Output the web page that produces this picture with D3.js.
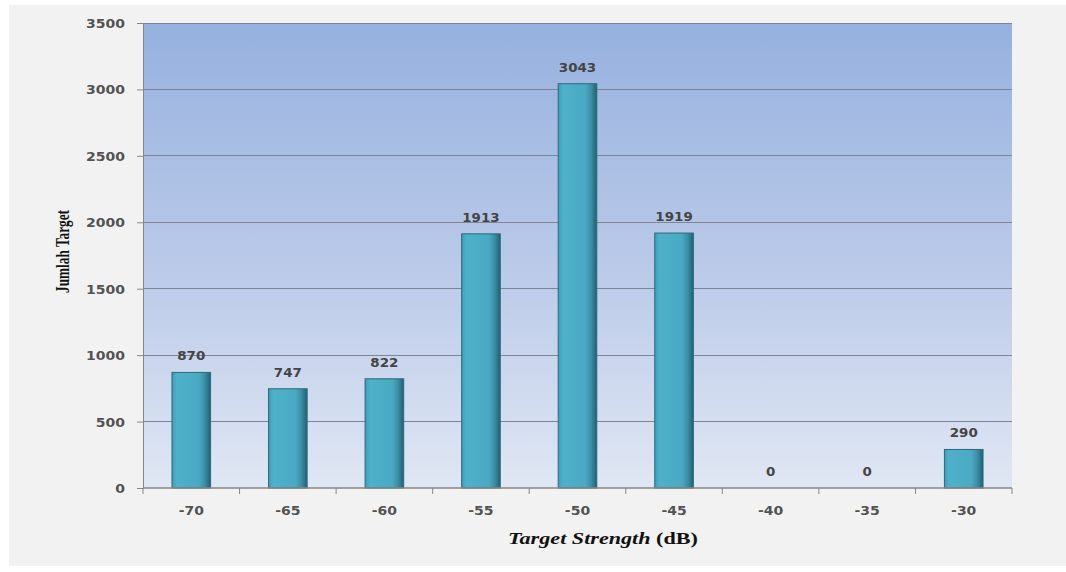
<!DOCTYPE html>
<html>
<head>
<meta charset="utf-8">
<script src="https://cdn.jsdelivr.net/npm/d3@7"></script>
<style>
  html, body { margin: 0; padding: 0; background: #ffffff; }
  svg { display: block; }
</style>
</head>
<body>
<svg id="chart" width="1066" height="572"></svg>
<script>
// ---- data ----
const categories = ["-70", "-65", "-60", "-55", "-50", "-45", "-40", "-35", "-30"];
const values = [870, 747, 822, 1913, 3043, 1919, 0, 0, 290];
const yTicks = [0, 500, 1000, 1500, 2000, 2500, 3000, 3500];
const yTitle = "Jumlah Target";
const xTitleItalic = "Target Strength";
const xTitleRest = " (dB)";

// ---- layout ----
const W = 1066, H = 572;
const plot = { left: 143, top: 23, right: 1012, bottom: 488 };
const SX = 1.12; // horizontal stretch of the source picture's text
const labelFont = "DejaVu Sans, Verdana, sans-serif";

const svg = d3.select("#chart");
const defs = svg.append("defs");

const bgGrad = defs.append("linearGradient").attr("id", "bgGrad")
  .attr("x1", 0).attr("y1", 0).attr("x2", 0).attr("y2", 1);
bgGrad.append("stop").attr("offset", "0%").attr("stop-color", "#96b1df");
bgGrad.append("stop").attr("offset", "55%").attr("stop-color", "#bccbe9");
bgGrad.append("stop").attr("offset", "100%").attr("stop-color", "#e0e7f4");

const barGrad = defs.append("linearGradient").attr("id", "barGrad")
  .attr("x1", 0).attr("y1", 0).attr("x2", 1).attr("y2", 0);
barGrad.append("stop").attr("offset", "0%").attr("stop-color", "#3f9db5");
barGrad.append("stop").attr("offset", "12%").attr("stop-color", "#4eb0c9");
barGrad.append("stop").attr("offset", "70%").attr("stop-color", "#4aaac3");
barGrad.append("stop").attr("offset", "86%").attr("stop-color", "#3a8ca3");
barGrad.append("stop").attr("offset", "100%").attr("stop-color", "#215f72");

// outer panel
svg.append("rect").attr("x", 9).attr("y", 5).attr("width", W - 9).attr("height", 561)
  .attr("fill", "#f2f2f2");

// plot background
svg.append("rect")
  .attr("x", plot.left).attr("y", plot.top)
  .attr("width", plot.right - plot.left).attr("height", plot.bottom - plot.top)
  .attr("fill", "url(#bgGrad)");

// scales
const x = d3.scaleBand().domain(categories)
  .range([plot.left, plot.right]).paddingInner(0.6).paddingOuter(0.3);
const xCell = d3.scaleBand().domain(categories).range([plot.left, plot.right]).padding(0);
const y = d3.scaleLinear().domain([0, 3500]).range([plot.bottom, plot.top]);

// gridlines
svg.append("g").selectAll("line").data(yTicks.filter(d => d > 0)).join("line")
  .attr("x1", plot.left).attr("x2", plot.right)
  .attr("y1", d => y(d)).attr("y2", d => y(d))
  .attr("stroke", "#7d8595").attr("stroke-width", 1).attr("shape-rendering", "crispEdges");

// y axis
const yAxis = svg.append("g").attr("transform", `translate(${plot.left},0)`)
  .call(d3.axisLeft(y).tickValues(yTicks).tickSize(6).tickPadding(0).tickFormat(d3.format("d")));
yAxis.select(".domain").attr("stroke", "#868686");
yAxis.selectAll(".tick line").attr("stroke", "#868686");
yAxis.selectAll(".tick text")
  .attr("x", null).attr("dy", null)
  .attr("transform", `translate(-18,4.5) scale(${SX},1)`)
  .attr("text-anchor", "end")
  .attr("font-family", labelFont)
  .attr("font-size", 12.5).attr("font-weight", "bold").attr("fill", "#525252");

// bars
svg.append("g").selectAll("rect").data(categories).join("rect")
  .attr("x", d => x(d)).attr("width", x.bandwidth())
  .attr("y", (d, i) => y(values[i]))
  .attr("height", (d, i) => y(0) - y(values[i]))
  .attr("fill", "url(#barGrad)")
  .attr("stroke", "#2a6a7c").attr("stroke-width", 1);

// x axis line + boundary ticks
svg.append("line").attr("x1", plot.left).attr("x2", plot.right)
  .attr("y1", y(0)).attr("y2", y(0)).attr("stroke", "#868686").attr("stroke-width", 1.5);
const bounds = categories.map(c => xCell(c)).concat([plot.right]);
svg.append("g").selectAll("line").data(bounds).join("line")
  .attr("x1", d => d).attr("x2", d => d)
  .attr("y1", y(0)).attr("y2", y(0) + 6)
  .attr("stroke", "#868686").attr("stroke-width", 1);

// x tick labels
svg.append("g").selectAll("text").data(categories).join("text")
  .attr("transform", d => `translate(${x(d) + x.bandwidth() / 2},${y(0) + 27}) scale(${SX},1)`)
  .attr("text-anchor", "middle")
  .attr("font-family", labelFont)
  .attr("font-size", 12.5).attr("font-weight", "bold").attr("fill", "#525252")
  .text(d => d);

// value labels
svg.append("g").selectAll("text").data(categories).join("text")
  .attr("transform", (d, i) => `translate(${x(d) + x.bandwidth() / 2},${y(values[i]) - 12}) scale(${SX},1)`)
  .attr("text-anchor", "middle")
  .attr("font-family", labelFont)
  .attr("font-size", 12).attr("font-weight", "bold").attr("fill", "#444")
  .text((d, i) => values[i]);

// y title (fit to its length in the source: ~83px, centred at y≈251)
const yt = svg.append("text")
  .attr("text-anchor", "middle")
  .attr("font-family", "Liberation Serif, Times New Roman, serif")
  .attr("font-size", 19).attr("font-weight", "bold").attr("fill", "#111")
  .text(yTitle);
const ytLen = yt.node().getComputedTextLength();
yt.attr("transform", `translate(69,251.5) rotate(-90) scale(${83 / ytLen},1)`);

// x title (fit to ~190px, centred at x≈603)
const xt = svg.append("text")
  .attr("text-anchor", "middle")
  .attr("font-family", "Liberation Serif, Times New Roman, serif")
  .attr("font-size", 17.5).attr("font-weight", "bold").attr("fill", "#111");
xt.append("tspan").attr("font-style", "italic").text(xTitleItalic);
xt.append("tspan").text(xTitleRest);
const xtLen = xt.node().getComputedTextLength();
xt.attr("transform", `translate(603,544) scale(${190 / xtLen},1)`);
</script>
</body>
</html>
